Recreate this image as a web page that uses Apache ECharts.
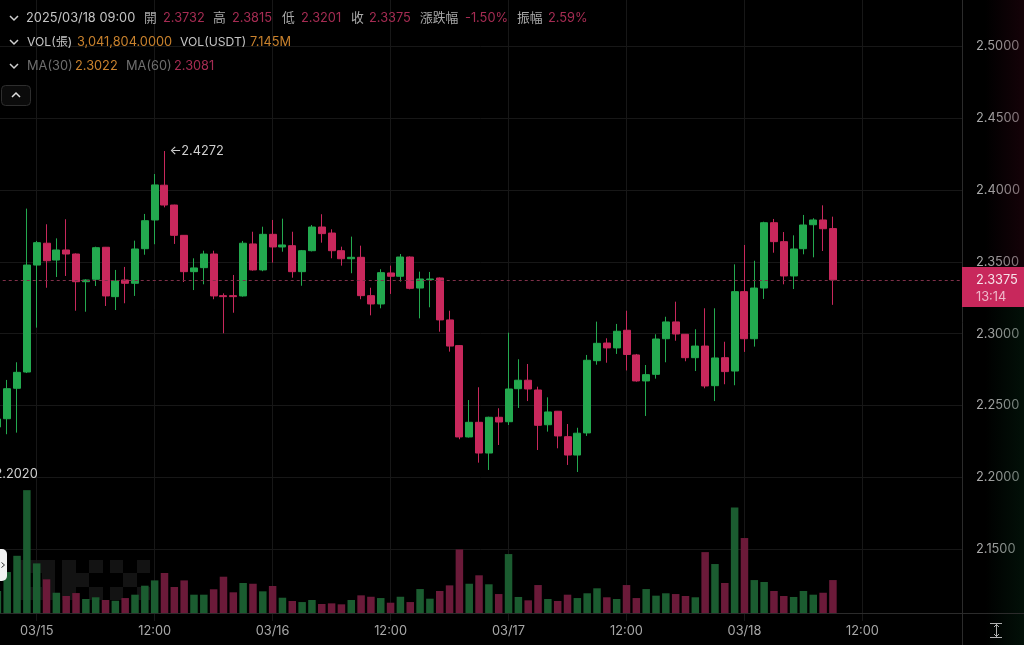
<!DOCTYPE html>
<html>
<head>
<meta charset="utf-8">
<title>K-line</title>
<style>
  html, body { margin: 0; padding: 0; background: #000; }
  #main { width: 1024px; height: 645px; }
</style>
<script src="https://cdn.jsdelivr.net/npm/echarts@6/dist/echarts.min.js"></script>
</head>
<body>
<div id="main"></div>
<script>
// hourly candles, the first one is 4 hours before 03/15 00:00
const opens = [
  2.2350, 2.2408, 2.2620, 2.2733, 2.3478, 2.3630, 2.3513, 2.3583, 2.3555, 2.3362,
  2.3379, 2.3602, 2.3258, 2.3374, 2.3351, 2.3592, 2.3792, 2.4034, 2.3896, 2.3685,
  2.3432, 2.3460, 2.3555, 2.3265, 2.3265, 2.3263, 2.3625, 2.3444, 2.3692, 2.3604,
  2.3613, 2.3432, 2.3578, 2.3743, 2.3701, 2.3578, 2.3522, 2.3532, 2.3265, 2.3207,
  2.3423, 2.3400, 2.3534, 2.3318, 2.3376, 2.3388, 2.3096, 2.2917, 2.2281, 2.2383,
  2.2169, 2.2418, 2.2387, 2.2617, 2.2676, 2.2608, 2.2366, 2.2460, 2.2283, 2.2155,
  2.2309, 2.2812, 2.2935, 2.2901, 2.3024, 2.2852, 2.2671, 2.2717, 2.2965, 2.3082,
  2.2996, 2.2833, 2.2914, 2.2638, 2.2833, 2.2740, 2.3293, 2.2965, 2.3318, 2.3773,
  2.3641, 2.3402, 2.3592, 2.3759, 2.3792, 2.3732
];
const closes = [
  2.2406, 2.2617, 2.2731, 2.3478, 2.3634, 2.3508, 2.3583, 2.3555, 2.3362, 2.3374,
  2.3599, 2.3263, 2.3367, 2.3351, 2.3590, 2.3787, 2.4036, 2.3896, 2.3685, 2.3432,
  2.3458, 2.3555, 2.3263, 2.3258, 2.3258, 2.3630, 2.3444, 2.3692, 2.3604, 2.3618,
  2.3432, 2.3578, 2.3743, 2.3697, 2.3578, 2.3522, 2.3532, 2.3265, 2.3207, 2.3425,
  2.3400, 2.3534, 2.3316, 2.3381, 2.3381, 2.3096, 2.2914, 2.2281, 2.2383, 2.2169,
  2.2418, 2.2385, 2.2615, 2.2676, 2.2615, 2.2362, 2.2455, 2.2288, 2.2155, 2.2307,
  2.2815, 2.2933, 2.2901, 2.3017, 2.2855, 2.2671, 2.2715, 2.2963, 2.3082, 2.2998,
  2.2833, 2.2914, 2.2636, 2.2831, 2.2736, 2.3293, 2.2965, 2.3318, 2.3773, 2.3641,
  2.3402, 2.3590, 2.3757, 2.3792, 2.3731, 2.3375
];
const lows = [
  2.2322, 2.2300, 2.2311, 2.2726, 2.3042, 2.3320, 2.3395, 2.3402, 2.3160, 2.3153,
  2.3332, 2.3193, 2.3165, 2.3212, 2.3263, 2.3550, 2.3623, 2.3880, 2.3625, 2.3360,
  2.3304, 2.3344, 2.3240, 2.3003, 2.3146, 2.3258, 2.3439, 2.3435, 2.3495, 2.3571,
  2.3390, 2.3334, 2.3573, 2.3634, 2.3525, 2.3474, 2.3421, 2.3240, 2.3128, 2.3177,
  2.3277, 2.3362, 2.3309, 2.3107, 2.3184, 2.3014, 2.2875, 2.2265, 2.2277, 2.2102,
  2.2051, 2.2225, 2.2364, 2.2483, 2.2531, 2.2190, 2.2318, 2.2202, 2.2086, 2.2037,
  2.2288, 2.2784, 2.2798, 2.2859, 2.2744, 2.2666, 2.2427, 2.2687, 2.2801, 2.2951,
  2.2808, 2.2740, 2.2620, 2.2531, 2.2648, 2.2641, 2.2873, 2.2910, 2.3242, 2.3564,
  2.3344, 2.3311, 2.3553, 2.3532, 2.3576, 2.3201
];
const highs = [
  2.2434, 2.2678, 2.2801, 2.3871, 2.3646, 2.3762, 2.3664, 2.3797, 2.3559, 2.3379,
  2.3606, 2.3604, 2.3444, 2.3465, 2.3648, 2.3834, 2.4112, 2.4272, 2.3898, 2.3687,
  2.3525, 2.3578, 2.3578, 2.3281, 2.3409, 2.3646, 2.3710, 2.3745, 2.3792, 2.3801,
  2.3710, 2.3583, 2.3757, 2.3832, 2.3727, 2.3606, 2.3676, 2.3613, 2.3320, 2.3449,
  2.3474, 2.3555, 2.3538, 2.3432, 2.3430, 2.3392, 2.3160, 2.2921, 2.2538, 2.2627,
  2.2422, 2.2481, 2.3007, 2.2822, 2.2789, 2.2631, 2.2557, 2.2462, 2.2371, 2.2345,
  2.2852, 2.3084, 2.2968, 2.3068, 2.3160, 2.2859, 2.2782, 2.2996, 2.3118, 2.3223,
  2.2998, 2.3031, 2.3177, 2.3177, 2.2944, 2.3483, 2.3618, 2.3508, 2.3780, 2.3799,
  2.3708, 2.3685, 2.3827, 2.3804, 2.3894, 2.3815
];
// volume in millions of contracts
const volumes = [
  2.03, 3.78, 5.28, 11.34, 4.58, 3.11, 1.87, 1.57, 1.84, 1.29,
  1.45, 1.20, 1.13, 1.38, 1.69, 2.52, 3.01, 3.69, 2.40, 3.01,
  1.69, 1.69, 2.19, 3.35, 1.91, 2.77, 2.70, 2.00, 2.49, 1.41,
  1.11, 1.01, 1.20, 0.83, 0.89, 0.80, 1.20, 1.63, 1.50, 1.38,
  0.95, 1.50, 1.01, 2.21, 1.32, 2.03, 2.55, 5.87, 2.70, 3.48,
  2.65, 1.75, 5.44, 1.48, 1.17, 2.58, 1.29, 1.11, 1.69, 1.38,
  1.82, 2.28, 1.45, 1.29, 2.58, 1.38, 2.21, 1.60, 1.82, 1.75,
  1.57, 1.45, 5.62, 4.52, 2.77, 9.75, 6.92, 3.04, 2.86, 2.03,
  1.57, 1.48, 2.03, 1.69, 1.87, 3.04
];
const xTickLabels = ['', '03/15', '12:00', '03/16', '12:00', '03/17', '12:00', '03/18', '12:00'];
const lastPrice = 2.3375;
const highMark = [13, 2.4272];
const lowMark = [-6, 2.2020];

const UP = '#23a94f';
const DOWN = '#c8285c';
const UP_DIM = '#1b5c30';
const DOWN_DIM = '#6b1a39';
const GRID_LINE = '#171717';
const PANEL_LINE = '#2b2b2b';
const FONT = "12.8px Inter, 'Noto Sans CJK TC', sans-serif";
const FONT_SMALL = "12.2px Inter, 'Noto Sans CJK TC', sans-serif";

const hours = opens.map((v, i) => i - 4);

const candleData = opens.map((v, i) => [hours[i], v, closes[i], lows[i], highs[i]]);
const volumeData = volumes.map((v, i) => ({
  value: [hours[i], v],
  itemStyle: { color: closes[i] >= opens[i] ? UP_DIM : DOWN_DIM }
}));

function txt(x, y, text, fill, extra) {
  return {
    type: 'text', z: 20, x: x, y: y,
    style: Object.assign({ text: text, fill: fill, font: FONT, verticalAlign: 'middle' }, extra || {})
  };
}
function chevron(x, y, up, color) {
  const d = up ? -1 : 1;
  return {
    type: 'polyline', z: 20,
    shape: { points: [[x, y - 2 * d], [x + 4, y + 2 * d], [x + 8, y - 2 * d]] },
    style: { stroke: color, lineWidth: 1.5, fill: null }
  };
}
function block(x, y, w, h) {
  return { type: 'rect', z: 0, shape: { x: x, y: y, width: w, height: h }, style: { fill: '#131313' } };
}
function hLine(x1, x2, y, color) {
  return { type: 'line', z: 5, shape: { x1: x1, y1: y, x2: x2, y2: y }, style: { stroke: color, lineWidth: 1 } };
}
function vLine(x, y1, y2, color) {
  return { type: 'line', z: 5, shape: { x1: x, y1: y1, x2: x, y2: y2 }, style: { stroke: color, lineWidth: 1 } };
}

const LABEL = '#c4c4c4';
const RED_TXT = '#a62c53';
const ORANGE_TXT = '#c9822d';
const GREY_TXT = '#6e6e6e';

const graphics = [
  // right panel tint
  {
    type: 'rect', z: 1, shape: { x: 985, y: 0, width: 39, height: 267 },
    style: { fill: { type: 'linear', x: 0, y: 0, x2: 1, y2: 0, colorStops: [{ offset: 0, color: 'rgba(50,5,20,0)' }, { offset: 1, color: 'rgba(50,5,20,0.4)' }] } }
  },
  {
    type: 'rect', z: 1, shape: { x: 985, y: 307, width: 39, height: 338 },
    style: { fill: { type: 'linear', x: 0, y: 0, x2: 1, y2: 0, colorStops: [{ offset: 0, color: 'rgba(5,40,20,0)' }, { offset: 1, color: 'rgba(5,40,20,0.4)' }] } }
  },
  // watermark
  block(15, 560, 40, 13), block(15, 573, 13, 14), block(42, 573, 13, 14), block(15, 587, 40, 13),
  block(62, 560, 14, 40), block(76, 573, 13, 14), block(89, 560, 14, 13), block(89, 587, 14, 13),
  block(110, 560, 13, 13), block(137, 560, 13, 13), block(123, 573, 14, 14), block(110, 587, 13, 13), block(137, 587, 13, 13),
  // panel lines
  hLine(0, 1024, 613.5, PANEL_LINE),
  vLine(962.5, 0, 645, PANEL_LINE),
  // header
  chevron(10, 18, false, '#d0d0d0'),
  txt(26, 18, '2025/03/18 09:00', LABEL),
  txt(144, 18, '開', '#a8a8a8'), txt(163, 18, '2.3732', RED_TXT),
  txt(213, 18, '高', '#a8a8a8'), txt(232, 18, '2.3815', RED_TXT),
  txt(282, 18, '低', '#a8a8a8'), txt(301, 18, '2.3201', RED_TXT),
  txt(351, 18, '收', '#a8a8a8'), txt(369, 18, '2.3375', RED_TXT),
  txt(420, 18, '漲跌幅', '#a8a8a8'), txt(465, 18, '-1.50%', RED_TXT),
  txt(517, 18, '振幅', '#a8a8a8'), txt(548, 18, '2.59%', RED_TXT),
  chevron(10, 42, false, '#d0d0d0'),
  txt(27, 42, 'VOL(張)', LABEL, { font: FONT_SMALL }), txt(77, 42, '3,041,804.0000', ORANGE_TXT),
  txt(180, 42, 'VOL(USDT)', LABEL, { font: FONT_SMALL }), txt(250, 42, '7.145M', ORANGE_TXT),
  chevron(10, 66, false, '#d0d0d0'),
  txt(27, 66, 'MA(30)', GREY_TXT), txt(75, 66, '2.3022', ORANGE_TXT),
  txt(126, 66, 'MA(60)', GREY_TXT), txt(174, 66, '2.3081', RED_TXT),
  // collapse button
  {
    type: 'rect', z: 20, shape: { x: 1.5, y: 85.5, width: 29, height: 20, r: 4 },
    style: { fill: '#0b0b0b', stroke: '#2e2e2e', lineWidth: 1 }
  },
  chevron(12, 95, true, '#e0e0e0'),
  // left tab
  {
    type: 'rect', z: 20, shape: { x: -6, y: 549, width: 13, height: 32, r: 5 },
    style: { fill: '#f2f2f2' }
  },
  {
    type: 'polyline', z: 21, shape: { points: [[1.5, 562.5], [4.5, 565], [1.5, 567.5]] },
    style: { stroke: '#333', lineWidth: 1, fill: null }
  },
  // last price tag
  {
    type: 'rect', z: 20, shape: { x: 962, y: 267, width: 62, height: 40 },
    style: { fill: DOWN }
  },
  txt(976, 280, '2.3375', '#f6e3ea'),
  txt(976, 297, '13:14', '#eeb9cb'),
  // scale icon
  hLine(990, 1002, 623.5, '#b0b0b0'),
  hLine(990, 1002, 637.5, '#b0b0b0'),
  vLine(996.5, 624, 637, '#b0b0b0'),
  {
    type: 'polyline', z: 20, shape: { points: [[994, 627], [996.5, 624.5], [999, 627]] },
    style: { stroke: '#b0b0b0', lineWidth: 1, fill: null }
  },
  {
    type: 'polyline', z: 20, shape: { points: [[994, 634], [996.5, 636.5], [999, 634]] },
    style: { stroke: '#b0b0b0', lineWidth: 1, fill: null }
  }
];

const chart = echarts.init(document.getElementById('main'));

chart.setOption({
  animation: false,
  backgroundColor: '#000',
  graphic: graphics,
  grid: [
    { left: -81.26, width: 1043.26, top: -25.3, height: 646.2, outerBoundsMode: 'none' },
    { left: -81.26, width: 1043.26, top: 483, height: 130, outerBoundsMode: 'none' }
  ],
  xAxis: [
    {
      type: 'value', gridIndex: 0, min: -12, max: 94.13, interval: 12,
      axisLine: { show: false }, axisTick: { show: false }, axisLabel: { show: false },
      splitLine: { lineStyle: { color: GRID_LINE } }
    },
    {
      type: 'value', gridIndex: 1, min: -12, max: 94.13, interval: 12,
      axisLine: { show: false }, axisTick: { show: false },
      axisLabel: {
        color: '#a8a8a8', fontSize: 12.8, fontFamily: "Inter, sans-serif", margin: 12,
        showMinLabel: false, showMaxLabel: false,
        formatter: function (v) {
          return xTickLabels[(v + 12) / 12] || '';
        }
      },
      splitLine: { show: false }
    }
  ],
  yAxis: [
    {
      type: 'value', gridIndex: 0, position: 'right', min: 2.1, max: 2.55, interval: 0.05,
      axisLine: { show: false }, axisTick: { show: false },
      axisLabel: {
        color: '#a8a8a8', fontSize: 12.8, fontFamily: "Inter, sans-serif", margin: 14,
        padding: [2, 0, 0, 0],
        showMinLabel: false, showMaxLabel: false,
        formatter: function (v) { return v.toFixed(4); }
      },
      splitLine: { showMinLine: false, showMaxLine: false, lineStyle: { color: GRID_LINE } }
    },
    {
      type: 'value', gridIndex: 1, min: 0, max: 12, show: false
    }
  ],
  series: [
    {
      type: 'candlestick', xAxisIndex: 0, yAxisIndex: 0,
      barWidth: 7.5,
      data: candleData,
      encode: { x: 0, y: [1, 2, 3, 4] },
      itemStyle: { color: UP, color0: DOWN, borderColor: UP, borderColor0: DOWN, borderWidth: 1 },
      markLine: {
        silent: true, symbol: 'none', precision: 4,
        data: [{ yAxis: lastPrice }],
        label: { show: false },
        lineStyle: { color: '#80304a', type: [3, 3], width: 1 }
      },
      markPoint: {
        silent: true, symbol: 'circle', symbolSize: 0,
        itemStyle: { color: 'transparent' },
        data: [
          { coord: highMark, value: highMark[1] },
          { coord: lowMark, value: lowMark[1] }
        ],
        label: {
          show: true, position: 'right', distance: 5,
          color: '#d0d0d0', fontSize: 12.8, fontFamily: "Inter, sans-serif",
          formatter: function (p) { return '←' + p.value.toFixed(4); }
        }
      }
    },
    {
      type: 'bar', xAxisIndex: 1, yAxisIndex: 1,
      barWidth: 7.5,
      data: volumeData
    }
  ]
});
</script>
</body>
</html>
